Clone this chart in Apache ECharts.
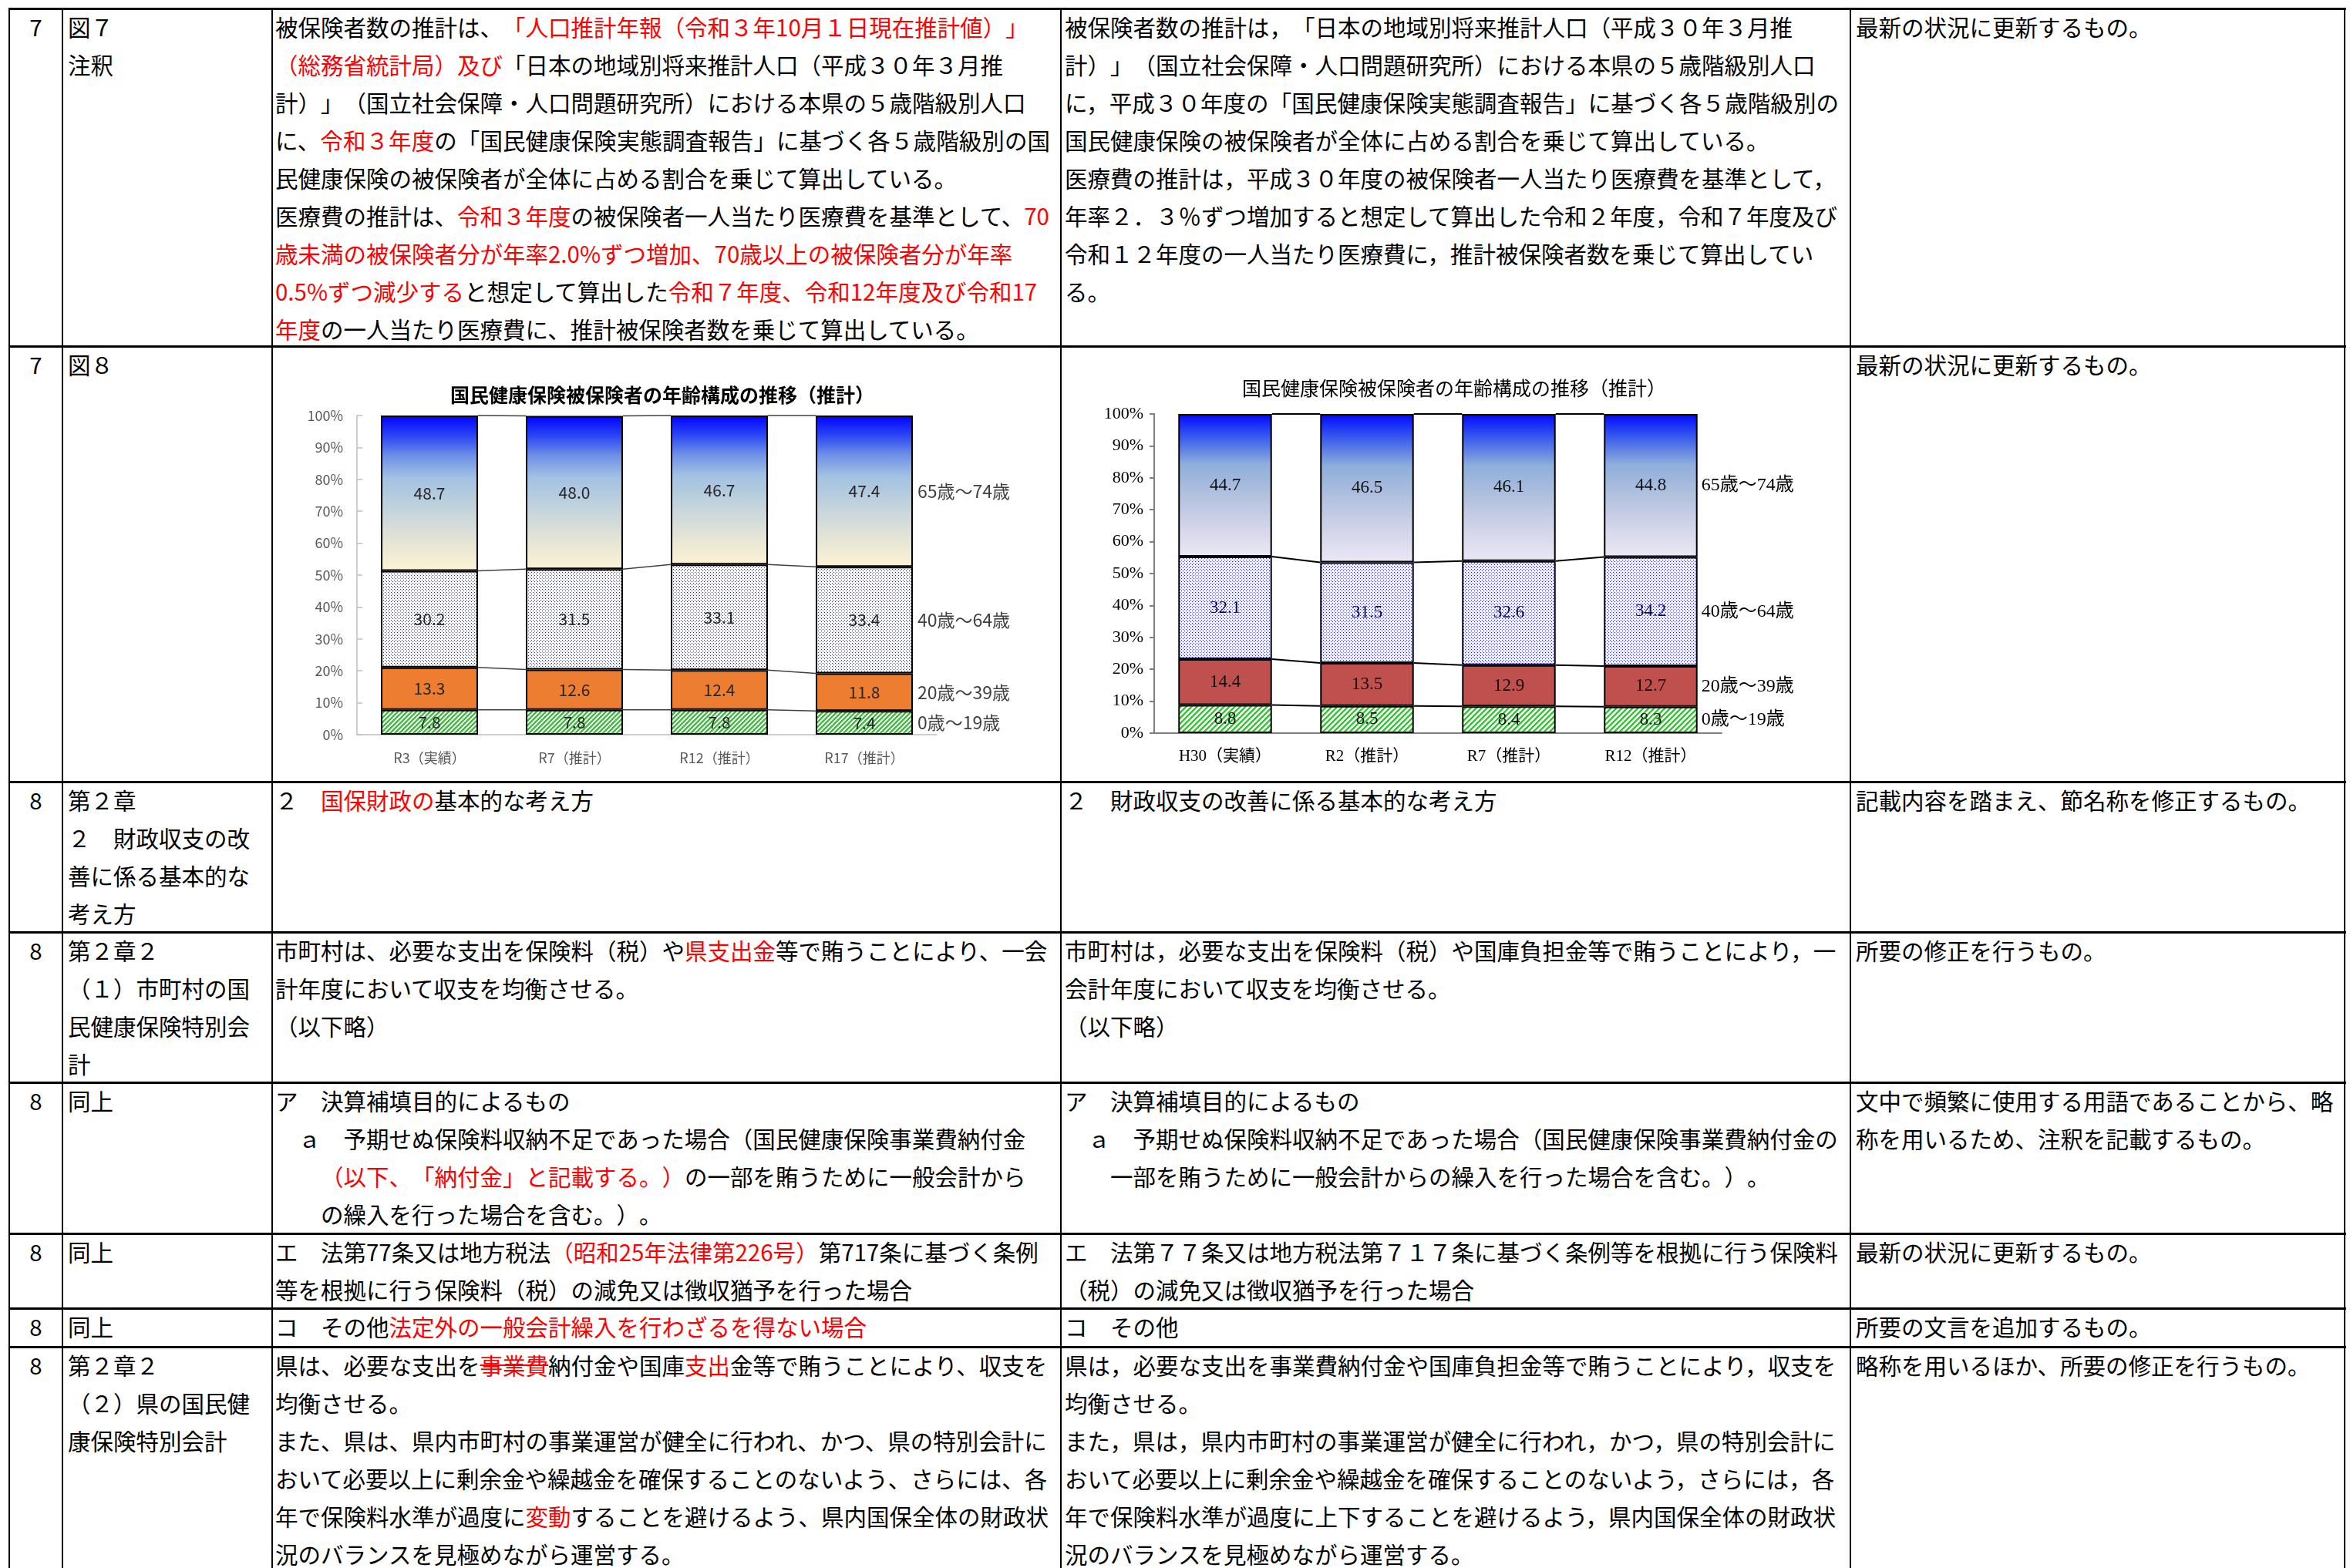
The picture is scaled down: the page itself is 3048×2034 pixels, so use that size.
<!DOCTYPE html>
<html><head><meta charset="utf-8">
<script src="https://cdn.jsdelivr.net/npm/echarts@6/dist/echarts.min.js"></script>
<style>
html,body{margin:0;padding:0;background:#fff;}
body{width:3048px;height:2034px;overflow:hidden;position:relative;}
.hl{position:absolute;background:#000;height:3px;left:11px;width:3032px;}
.vl{position:absolute;background:#000;width:2px;top:10px;height:2030px;}
.c{position:absolute;font-family:'Noto Sans CJK JP','Noto Sans',sans-serif;font-size:29.5px;line-height:49px;color:#000;white-space:nowrap;text-spacing-trim:space-all;}
.c div{white-space:nowrap;}
.j{text-align:justify;text-align-last:justify;}
.r{color:#ff0000;}
.s{text-decoration:line-through;}
.n{text-align:center;width:69px;left:12px;}
.c2{left:88px;width:238px;}
.c3{left:357px;width:1005px;}
.c4{left:1381px;width:1004px;}
.c5{left:2407px;width:622px;}
#ch1,#ch2{position:absolute;}
</style></head>
<body>
<!-- grid lines -->
<div class="hl" style="top:10px"></div>
<div class="hl" style="top:448px"></div>
<div class="hl" style="top:1013px"></div>
<div class="hl" style="top:1208px"></div>
<div class="hl" style="top:1403px"></div>
<div class="hl" style="top:1599px"></div>
<div class="hl" style="top:1696px"></div>
<div class="hl" style="top:1746px"></div>
<div class="vl" style="left:11px"></div>
<div class="vl" style="left:80px"></div>
<div class="vl" style="left:352px"></div>
<div class="vl" style="left:1375px"></div>
<div class="vl" style="left:2399px"></div>
<div class="vl" style="left:3040px"></div>

<!-- row 1 -->
<div class="c n" style="top:10px">7</div>
<div class="c c2" style="top:10px"><div>図７</div><div>注釈</div></div>
<div class="c c3" style="top:10px">
<div>被保険者数の推計は、<span class="r">「人口推計年報（令和３年10月１日現在推計値）」</span></div>
<div><span class="r">（総務省統計局）及び</span>「日本の地域別将来推計人口（平成３０年３月推</div>
<div>計）」（国立社会保障・人口問題研究所）における本県の５歳階級別人口</div>
<div class="j">に、<span class="r">令和３年度</span>の「国民健康保険実態調査報告」に基づく各５歳階級別の国</div>
<div>民健康保険の被保険者が全体に占める割合を乗じて算出している。</div>
<div>医療費の推計は、<span class="r">令和３年度</span>の被保険者一人当たり医療費を基準として、<span class="r">70</span></div>
<div><span class="r">歳未満の被保険者分が年率2.0%ずつ増加、70歳以上の被保険者分が年率</span></div>
<div><span class="r">0.5%ずつ減少する</span>と想定して算出した<span class="r">令和７年度、令和12年度及び令和17</span></div>
<div><span class="r">年度</span>の一人当たり医療費に、推計被保険者数を乗じて算出している。</div>
</div>
<div class="c c4" style="top:10px">
<div>被保険者数の推計は，「日本の地域別将来推計人口（平成３０年３月推</div>
<div>計）」（国立社会保障・人口問題研究所）における本県の５歳階級別人口</div>
<div class="j">に，平成３０年度の「国民健康保険実態調査報告」に基づく各５歳階級別の</div>
<div>国民健康保険の被保険者が全体に占める割合を乗じて算出している。</div>
<div>医療費の推計は，平成３０年度の被保険者一人当たり医療費を基準として，</div>
<div>年率２．３％ずつ増加すると想定して算出した令和２年度，令和７年度及び</div>
<div>令和１２年度の一人当たり医療費に，推計被保険者数を乗じて算出してい</div>
<div>る。</div>
</div>
<div class="c c5" style="top:10px">最新の状況に更新するもの。</div>

<!-- row 2 -->
<div class="c n" style="top:448px">7</div>
<div class="c c2" style="top:448px">図８</div>
<div class="c c5" style="top:448px">最新の状況に更新するもの。</div>
<div id="ch1" style="left:355px;top:452px;width:1020px;height:560px;"></div>
<div id="ch2" style="left:1378px;top:452px;width:1021px;height:560px;"></div>

<!-- row 3 -->
<div class="c n" style="top:1013px">8</div>
<div class="c c2" style="top:1013px"><div>第２章</div><div>２　財政収支の改</div><div>善に係る基本的な</div><div>考え方</div></div>
<div class="c c3" style="top:1013px">２　<span class="r">国保財政の</span>基本的な考え方</div>
<div class="c c4" style="top:1013px">２　財政収支の改善に係る基本的な考え方</div>
<div class="c c5" style="top:1013px">記載内容を踏まえ、節名称を修正するもの。</div>

<!-- row 4 -->
<div class="c n" style="top:1208px">8</div>
<div class="c c2" style="top:1208px"><div>第２章２</div><div>（１）市町村の国</div><div>民健康保険特別会</div><div>計</div></div>
<div class="c c3" style="top:1208px">
<div>市町村は、必要な支出を保険料（税）や<span class="r">県支出金</span>等で賄うことにより、一会</div>
<div>計年度において収支を均衡させる。</div>
<div>（以下略）</div>
</div>
<div class="c c4" style="top:1208px">
<div>市町村は，必要な支出を保険料（税）や国庫負担金等で賄うことにより，一</div>
<div>会計年度において収支を均衡させる。</div>
<div>（以下略）</div>
</div>
<div class="c c5" style="top:1208px">所要の修正を行うもの。</div>

<!-- row 5 -->
<div class="c n" style="top:1403px">8</div>
<div class="c c2" style="top:1403px">同上</div>
<div class="c c3" style="top:1403px">
<div>ア　決算補填目的によるもの</div>
<div>　ａ　予期せぬ保険料収納不足であった場合（国民健康保険事業費納付金</div>
<div>　　<span class="r">（以下、「納付金」と記載する。）</span>の一部を賄うために一般会計から</div>
<div>　　の繰入を行った場合を含む。）。</div>
</div>
<div class="c c4" style="top:1403px">
<div>ア　決算補填目的によるもの</div>
<div>　ａ　予期せぬ保険料収納不足であった場合（国民健康保険事業費納付金の</div>
<div>　　一部を賄うために一般会計からの繰入を行った場合を含む。）。</div>
</div>
<div class="c c5" style="top:1403px">
<div>文中で頻繁に使用する用語であることから、略</div>
<div>称を用いるため、注釈を記載するもの。</div>
</div>

<!-- row 6 -->
<div class="c n" style="top:1599px">8</div>
<div class="c c2" style="top:1599px">同上</div>
<div class="c c3" style="top:1599px">
<div>エ　法第77条又は地方税法<span class="r">（昭和25年法律第226号）</span>第717条に基づく条例</div>
<div>等を根拠に行う保険料（税）の減免又は徴収猶予を行った場合</div>
</div>
<div class="c c4" style="top:1599px">
<div>エ　法第７７条又は地方税法第７１７条に基づく条例等を根拠に行う保険料</div>
<div>（税）の減免又は徴収猶予を行った場合</div>
</div>
<div class="c c5" style="top:1599px">最新の状況に更新するもの。</div>

<!-- row 7 -->
<div class="c n" style="top:1696px">8</div>
<div class="c c2" style="top:1696px">同上</div>
<div class="c c3" style="top:1696px">コ　その他<span class="r">法定外の一般会計繰入を行わざるを得ない場合</span></div>
<div class="c c4" style="top:1696px">コ　その他</div>
<div class="c c5" style="top:1696px">所要の文言を追加するもの。</div>

<!-- row 8 -->
<div class="c n" style="top:1746px">8</div>
<div class="c c2" style="top:1746px"><div>第２章２</div><div>（２）県の国民健</div><div>康保険特別会計</div></div>
<div class="c c3" style="top:1746px">
<div>県は、必要な支出を<span class="r s">事業費</span>納付金や国庫<span class="r">支出</span>金等で賄うことにより、収支を</div>
<div>均衡させる。</div>
<div>また、県は、県内市町村の事業運営が健全に行われ、かつ、県の特別会計に</div>
<div>おいて必要以上に剰余金や繰越金を確保することのないよう、さらには、各</div>
<div>年で保険料水準が過度に<span class="r">変動</span>することを避けるよう、県内国保全体の財政状</div>
<div>況のバランスを見極めながら運営する。</div>
</div>
<div class="c c4" style="top:1746px">
<div>県は，必要な支出を事業費納付金や国庫負担金等で賄うことにより，収支を</div>
<div>均衡させる。</div>
<div>また，県は，県内市町村の事業運営が健全に行われ，かつ，県の特別会計に</div>
<div>おいて必要以上に剰余金や繰越金を確保することのないよう，さらには，各</div>
<div>年で保険料水準が過度に上下することを避けるよう，県内国保全体の財政状</div>
<div>況のバランスを見極めながら運営する。</div>
</div>
<div class="c c5" style="top:1746px">略称を用いるほか、所要の修正を行うもの。</div>

<script>
// ---------- data ----------
const chartTitle = '国民健康保険被保険者の年齢構成の推移（推計）';
const ageGroups = ['0歳～19歳', '20歳～39歳', '40歳～64歳', '65歳～74歳'];

// Chart 1 (new)
const categoriesNew = ['R3（実績）', 'R7（推計）', 'R12（推計）', 'R17（推計）'];
const age0to19New = [7.8, 7.8, 7.8, 7.4];
const age20to39New = [13.3, 12.6, 12.4, 11.8];
const age40to64New = [30.2, 31.5, 33.1, 33.4];
const age65to74New = [48.7, 48.0, 46.7, 47.4];

// Chart 2 (old)
const categoriesOld = ['H30（実績）', 'R2（推計）', 'R7（推計）', 'R12（推計）'];
const age0to19Old = [8.8, 8.5, 8.4, 8.3];
const age20to39Old = [14.4, 13.5, 12.9, 12.7];
const age40to64Old = [32.1, 31.5, 32.6, 34.2];
const age65to74Old = [44.7, 46.5, 46.1, 44.8];

const yMin = 0, yMax = 100, yInterval = 10;

// ---------- patterns ----------
function stripeCanvas(rgb, period, thick) {
  const c = document.createElement('canvas'); c.width = period; c.height = period;
  const ctx = c.getContext('2d'); const img = ctx.createImageData(period, period);
  for (let y = 0; y < period; y++) for (let x = 0; x < period; x++) {
    const d = (x + y) % period; const i = (y * period + x) * 4;
    let a = d < thick ? 1 : 0;
    if (d === thick) a = 0.35;
    img.data[i] = Math.round(255 + (rgb[0] - 255) * a);
    img.data[i + 1] = Math.round(255 + (rgb[1] - 255) * a);
    img.data[i + 2] = Math.round(255 + (rgb[2] - 255) * a);
    img.data[i + 3] = 255;
  }
  ctx.putImageData(img, 0, 0); return c;
}
function dotCanvas(rgb, spread) {
  const s = 4; const c = document.createElement('canvas'); c.width = s; c.height = s;
  const ctx = c.getContext('2d'); const img = ctx.createImageData(s, s);
  const cov = new Array(s * s).fill(0);
  const add = (x, y, v) => { x = (x + s) % s; y = (y + s) % s; cov[y * s + x] = Math.min(1, cov[y * s + x] + v); };
  [[0, 0], [2, 2]].forEach(([x, y]) => { add(x, y, 1); add(x + 1, y, spread); add(x, y + 1, spread); });
  for (let k = 0; k < s * s; k++) {
    const a = cov[k]; const i = k * 4;
    img.data[i] = Math.round(255 + (rgb[0] - 255) * a);
    img.data[i + 1] = Math.round(255 + (rgb[1] - 255) * a);
    img.data[i + 2] = Math.round(255 + (rgb[2] - 255) * a);
    img.data[i + 3] = 255;
  }
  ctx.putImageData(img, 0, 0); return c;
}
const stripes1 = { image: stripeCanvas([50, 200, 50], 6, 3), repeat: 'repeat' };
const stripes2 = { image: stripeCanvas([50, 200, 50], 7, 3), repeat: 'repeat' };
const dots1 = { image: dotCanvas([30, 30, 255], 0.1), repeat: 'repeat' };
const dots2 = { image: dotCanvas([30, 30, 255], 0.1), repeat: 'repeat' };
const grad1 = { type: 'linear', x: 0, y: 0, x2: 0, y2: 1, colorStops: [
  { offset: 0, color: '#0000ff' }, { offset: 0.13, color: '#2b45f4' }, { offset: 0.26, color: '#6e90e6' },
  { offset: 0.4, color: '#a2c1e2' }, { offset: 0.62, color: '#c6d5dc' }, { offset: 0.82, color: '#e6e5d6' },
  { offset: 1, color: '#fcf3d4' } ] };
const grad2 = { type: 'linear', x: 0, y: 0, x2: 0, y2: 1, colorStops: [
  { offset: 0, color: '#0008ff' }, { offset: 0.15, color: '#3456ef' }, { offset: 0.35, color: '#8eaedb' },
  { offset: 0.58, color: '#b4c2df' }, { offset: 0.8, color: '#d4d6ea' }, { offset: 1, color: '#ebe8f4' } ] };

// ---------- helpers ----------
function barSeries(name, data, color, barW, lbl) {
  return { type: 'bar', name: name, data: data, stack: 'total', barWidth: barW, z: 2,
    itemStyle: { color: color, borderColor: '#000', borderWidth: 2 },
    label: Object.assign({ show: true, position: 'inside', formatter: p => p.value.toFixed(1), textBorderWidth: 0 }, lbl) };
}
function seriesLines(cfg) {
  return { type: 'custom', silent: true, z: 3, clip: false,
    data: cfg.categories.map((c, i) => [i, 0]), encode: { x: 0, y: 1 },
    renderItem: function (params, api) {
      const i = api.value(0); const n = cfg.categories.length;
      const bw = api.size([1, 0])[0] * cfg.ratio;
      const cum = idx => { let s = 0; return cfg.stacks.map(a => (s += a[idx])); };
      const ci = cum(i); const children = [];
      if (i < n - 1) {
        const cn = cum(i + 1);
        for (let k = 0; k < ci.length; k++) {
          const p1 = api.coord([i, ci[k]]); const p2 = api.coord([i + 1, cn[k]]);
          children.push({ type: 'line', shape: { x1: p1[0] + bw / 2, y1: p1[1], x2: p2[0] - bw / 2, y2: p2[1] },
            style: { stroke: cfg.lineColor, lineWidth: cfg.lineWidth } });
        }
      } else {
        let prev = 0;
        for (let k = 0; k < ci.length; k++) {
          const p = api.coord([i, (prev + ci[k]) / 2]); prev = ci[k];
          children.push({ type: 'text', x: p[0] + bw / 2 + cfg.gap, y: p[1],
            style: { text: cfg.names[k], fill: cfg.textColor, font: cfg.font, align: 'left', verticalAlign: 'middle' } });
        }
      }
      return { type: 'group', children: children };
    } };
}

// ---------- chart 1 ----------
const F1 = "'Noto Sans CJK JP','Noto Sans',sans-serif";
const c1 = echarts.init(document.getElementById('ch1'));
c1.setOption({
  animation: false,
  title: { text: chartTitle, left: 499, top: 43, textAlign: 'center',
    textStyle: { fontFamily: F1, fontSize: 25, fontWeight: 'bold', color: '#000' } },
  grid: { left: 108, top: 87, width: 752, height: 414 },
  xAxis: { type: 'category', data: categoriesNew,
    axisLine: { lineStyle: { color: '#bfbfbf', width: 1.5 } },
    axisTick: { inside: true, length: 5, lineStyle: { color: '#bfbfbf', width: 1.5 } },
    axisLabel: { margin: 21, fontSize: 18, color: '#595959', fontFamily: F1 } },
  yAxis: { type: 'value', min: yMin, max: yMax, interval: yInterval,
    axisLine: { show: true, lineStyle: { color: '#bfbfbf', width: 1.5 } },
    axisTick: { show: true, inside: true, length: 7, lineStyle: { color: '#bfbfbf', width: 1.5 } },
    splitLine: { show: false },
    axisLabel: { formatter: '{value}%', margin: 18, fontSize: 18, color: '#595959', fontFamily: F1 } },
  series: [
    barSeries(ageGroups[0], age0to19New, stripes1, '67%', { fontSize: 21, color: '#262626', fontFamily: F1 }),
    barSeries(ageGroups[1], age20to39New, '#ed7d31', '67%', { fontSize: 21, color: '#262626', fontFamily: F1 }),
    barSeries(ageGroups[2], age40to64New, dots1, '67%', { fontSize: 21, color: '#262626', fontFamily: F1 }),
    barSeries(ageGroups[3], age65to74New, grad1, '67%', { fontSize: 21, color: '#262626', fontFamily: F1 }),
    seriesLines({ categories: categoriesNew, stacks: [age0to19New, age20to39New, age40to64New, age65to74New],
      names: ageGroups, ratio: 0.67, lineColor: '#404040', lineWidth: 1.5, gap: 6,
      textColor: '#404040', font: "23px 'Noto Sans CJK JP', sans-serif" })
  ]
});

// ---------- chart 2 ----------
const F2 = "'Liberation Serif','Noto Sans CJK JP',serif";
const c2 = echarts.init(document.getElementById('ch2'));
c2.setOption({
  animation: false,
  title: { text: chartTitle, left: 503, top: 37, textAlign: 'center',
    textStyle: { fontFamily: F2, fontSize: 25, fontWeight: 'normal', color: '#000' } },
  grid: { left: 119, top: 85, width: 736, height: 414 },
  xAxis: { type: 'category', data: categoriesOld,
    axisLine: { lineStyle: { color: '#808080', width: 2 } },
    axisTick: { inside: false, length: 6, lineStyle: { color: '#808080', width: 2 } },
    axisLabel: { margin: 20, fontSize: 21, color: '#000', fontFamily: F2 } },
  yAxis: { type: 'value', min: yMin, max: yMax, interval: yInterval,
    axisLine: { show: true, lineStyle: { color: '#808080', width: 2 } },
    axisTick: { show: true, inside: false, length: 6, lineStyle: { color: '#808080', width: 2 } },
    splitLine: { show: false },
    axisLabel: { formatter: '{value}%', margin: 14, fontSize: 22, color: '#000', fontFamily: F2 } },
  series: [
    barSeries(ageGroups[0], age0to19Old, stripes2, '66%', { fontSize: 23, color: '#111', fontFamily: F2 }),
    barSeries(ageGroups[1], age20to39Old, '#c0504d', '66%', { fontSize: 23, color: '#111', fontFamily: F2 }),
    barSeries(ageGroups[2], age40to64Old, dots2, '66%', { fontSize: 23, color: '#111', fontFamily: F2 }),
    barSeries(ageGroups[3], age65to74Old, grad2, '66%', { fontSize: 23, color: '#111', fontFamily: F2 }),
    seriesLines({ categories: categoriesOld, stacks: [age0to19Old, age20to39Old, age40to64Old, age65to74Old],
      names: ageGroups, ratio: 0.66, lineColor: '#000', lineWidth: 2, gap: 5,
      textColor: '#000', font: "24px 'Liberation Serif','Noto Sans CJK JP', serif" })
  ]
});
</script>
</body></html>
